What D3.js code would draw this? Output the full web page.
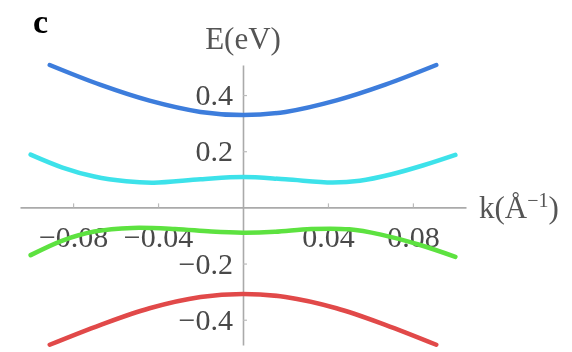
<!DOCTYPE html>
<html>
<head>
<meta charset="utf-8">
<script src="https://cdn.jsdelivr.net/npm/d3@7"></script>
<style>
  html, body { margin: 0; padding: 0; background: #fff; }
  svg { display: block; font-family: "Liberation Serif", "DejaVu Serif", serif; }
</style>
</head>
<body>
<div id="chart"></div>
<script>
// band energies E(eV), k in 1/Å
const kBlue = [-0.091, -0.067, -0.044, -0.02, 0, 0.02, 0.044, 0.067, 0.091];
const eBlue = [0.507, 0.436, 0.380, 0.340, 0.329, 0.340, 0.381, 0.437, 0.507];

const kCyan = [-0.1, -0.085, -0.07, -0.055, -0.042, -0.02, 0, 0.02, 0.042, 0.055, 0.07, 0.085, 0.1];
const eCyan = [0.188, 0.142, 0.110, 0.093, 0.088, 0.100, 0.108, 0.100, 0.089, 0.095, 0.118, 0.150, 0.187];

const kGreen = [-0.1, -0.085, -0.07, -0.052, -0.032, -0.015, 0, 0.015, 0.032, 0.05, 0.065, 0.083, 0.1];
const eGreen = [-0.170, -0.118, -0.086, -0.073, -0.077, -0.086, -0.090, -0.087, -0.077, -0.078, -0.097, -0.133, -0.176];

const kRed = [-0.091, -0.067, -0.044, -0.02, 0, 0.02, 0.044, 0.067, 0.091];
const eRed = [-0.489, -0.418, -0.359, -0.319, -0.308, -0.319, -0.359, -0.418, -0.489];

const xTicks = [-0.08, -0.04, 0.04, 0.08];
const xTickLabels = ["\u22120.08", "\u22120.04", "0.04", "0.08"];
const yTicks = [-0.4, -0.2, 0.2, 0.4];
const yTickLabels = ["\u22120.4", "\u22120.2", "0.2", "0.4"];

const bands = [
  { k: kBlue, e: eBlue, color: "#3d7ddc" },
  { k: kCyan, e: eCyan, color: "#3ee2ea" },
  { k: kGreen, e: eGreen, color: "#5de23f" },
  { k: kRed, e: eRed, color: "#e14848" }
];

const width = 572, height = 352;

const x = d3.scaleLinear().domain([-0.105, 0.105]).range([20, 466]);
const y = d3.scaleLinear().domain([-0.49, 0.507]).range([345, 65]);

const svg = d3.select("#chart").append("svg")
  .attr("width", width)
  .attr("height", height);

const defs = svg.append("defs");
defs.append("filter").attr("id", "soft")
  .append("feGaussianBlur").attr("stdDeviation", 0.6);

const g = svg.append("g").attr("filter", "url(#soft)");

// axes through the origin, ticks pointing inward
const xAxis = d3.axisBottom(x)
  .tickValues(xTicks)
  .tickFormat((d, i) => xTickLabels[i])
  .tickSize(-4)
  .tickSizeOuter(0);

const yAxis = d3.axisLeft(y)
  .tickValues(yTicks)
  .tickFormat((d, i) => yTickLabels[i])
  .tickSize(-4)
  .tickPadding(10)
  .tickSizeOuter(0);

const gx = g.append("g")
  .attr("transform", `translate(0,${y(0)})`)
  .call(xAxis);

const gy = g.append("g")
  .attr("transform", `translate(${x(0)},0)`)
  .call(yAxis);

[gx, gy].forEach(ax => {
  ax.select(".domain").attr("stroke", "#aaa").attr("stroke-width", 1.6);
  ax.selectAll(".tick line").attr("stroke", "#bbb").attr("stroke-width", 1.2);
  ax.selectAll(".tick text")
    .attr("fill", "#484848")
    .style("font-family", "'Liberation Serif', serif")
    .style("font-size", "30px");
});
gx.selectAll(".tick text").attr("y", 29).attr("dy", "0.35em");

// bands
const line = d3.line()
  .x(d => x(d[0]))
  .y(d => y(d[1]))
  .curve(d3.curveCatmullRom.alpha(0.5));

bands.forEach(b => {
  g.append("path")
    .datum(d3.zip(b.k, b.e))
    .attr("fill", "none")
    .attr("stroke", b.color)
    .attr("stroke-width", 4.5)
    .attr("stroke-linecap", "round")
    .attr("d", line);
});

// axis labels
g.append("text")
  .attr("x", x(0))
  .attr("y", 49)
  .attr("text-anchor", "middle")
  .attr("fill", "#555")
  .style("font-size", "31px")
  .text("E(eV)");

const kl = g.append("text")
  .attr("x", 479)
  .attr("y", 218)
  .attr("fill", "#555")
  .style("font-size", "31px");
kl.append("tspan").text("k(Å");
kl.append("tspan").attr("dy", -11).style("font-size", "20px").text("\u22121");
kl.append("tspan").attr("dy", 11).text(")");

// panel letter
svg.append("text")
  .attr("x", 33)
  .attr("y", 33)
  .attr("fill", "#000")
  .style("font-size", "34px")
  .style("font-weight", "bold")
  .text("c");
</script>
</body>
</html>
